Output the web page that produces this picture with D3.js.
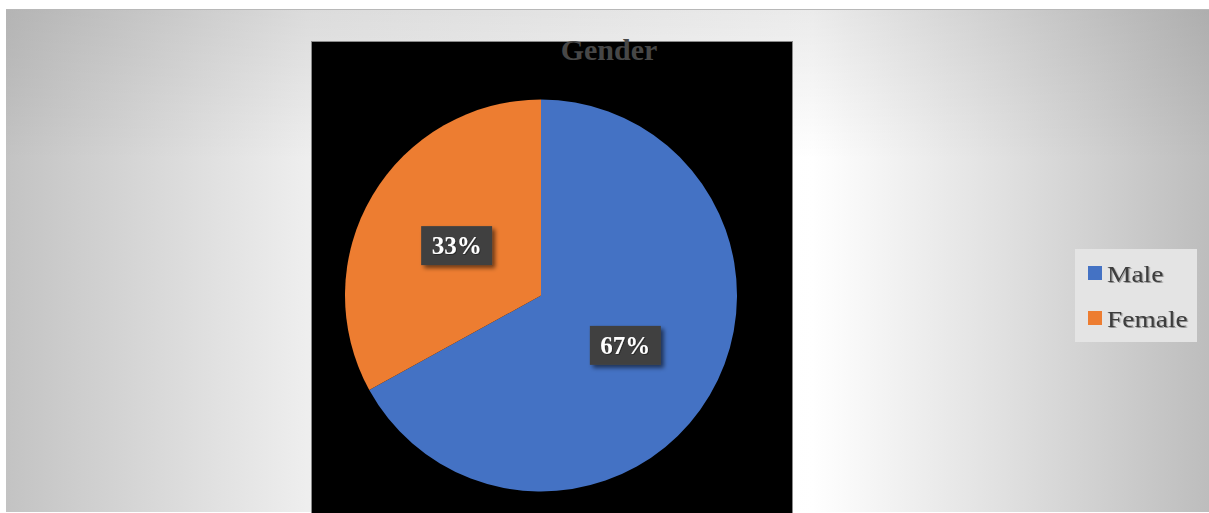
<!DOCTYPE html>
<html>
<head>
<meta charset="utf-8">
<script src="https://cdn.jsdelivr.net/npm/d3@7"></script>
<style>
  html, body { margin: 0; padding: 0; background: #ffffff; }
  svg { display: block; }
</style>
</head>
<body>
<svg id="chart" width="1209" height="513"></svg>
<script>
// Gender split of respondents
const categories = ["Male", "Female"];
const values = [67, 33];
const sliceColors = ["#4472C4", "#ED7D31"];
const chartTitle = "Gender";

const W = 1209, H = 513;
const svg = d3.select("#chart");
const defs = svg.append("defs");

// Slide background: soft grey gradient, brightest just right of the plot
const bg = defs.append("linearGradient").attr("id", "bgGrad")
  .attr("x1", "0").attr("y1", "0").attr("x2", "1").attr("y2", "0");
[[0, "#c3c3c3"], [0.25, "#eeeeee"], [0.67, "#ffffff"], [0.82, "#e2e2e2"], [1, "#bdbdbd"]]
  .forEach(([o, c]) => bg.append("stop").attr("offset", o).attr("stop-color", c));

const topShade = defs.append("linearGradient").attr("id", "topShade")
  .attr("x1", "0").attr("y1", "0").attr("x2", "0").attr("y2", "1");
[[0, "#000", 0.08], [0.3, "#000", 0.0], [1, "#000", 0.0]]
  .forEach(([o, c, a]) => topShade.append("stop").attr("offset", o).attr("stop-color", c).attr("stop-opacity", a));

const shadow = defs.append("filter").attr("id", "boxShadow")
  .attr("x", "-30%").attr("y", "-30%").attr("width", "160%").attr("height", "160%");
shadow.append("feDropShadow").attr("dx", 3).attr("dy", 3).attr("stdDeviation", 2)
  .attr("flood-color", "#000").attr("flood-opacity", 0.55);

const txtShadow = defs.append("filter").attr("id", "txtShadow")
  .attr("x", "-20%").attr("y", "-20%").attr("width", "140%").attr("height", "140%");
txtShadow.append("feDropShadow").attr("dx", 1).attr("dy", 1).attr("stdDeviation", 0.6)
  .attr("flood-color", "#000").attr("flood-opacity", 0.35);

svg.append("rect").attr("x", 0).attr("y", 0).attr("width", W).attr("height", H).attr("fill", "#ffffff");
svg.append("rect").attr("x", 6).attr("y", 9).attr("width", W - 6).attr("height", 503).attr("fill", "url(#bgGrad)");
svg.append("rect").attr("x", 6).attr("y", 9).attr("width", W - 6).attr("height", 503).attr("fill", "url(#topShade)");
svg.append("line").attr("x1", 6).attr("x2", W).attr("y1", 9.5).attr("y2", 9.5)
  .attr("stroke", "#b8b8b8").attr("stroke-width", 1);

// Plot area
const plot = { x: 311, y: 41, w: 481, h: 472 };
svg.append("rect")
  .attr("x", plot.x + 0.5).attr("y", plot.y + 0.5)
  .attr("width", plot.w).attr("height", plot.h)
  .attr("fill", "#000000").attr("stroke", "#8a8a8a").attr("stroke-width", 1);

svg.append("text")
  .attr("x", 609).attr("y", 60)
  .attr("text-anchor", "middle")
  .attr("font-family", "'Liberation Serif', 'Times New Roman', serif")
  .attr("font-weight", "bold").attr("font-size", 30)
  .attr("fill", "#474747")
  .text(chartTitle);

// Pie
const cx = 541, cy = 295.5, R = 196;
const data = categories.map((c, i) => ({ category: c, value: values[i], color: sliceColors[i] }));
const pie = d3.pie().value(d => d.value).sort(null);
const arc = d3.arc().innerRadius(0).outerRadius(R);
const arcs = pie(data);
const total = d3.sum(values);

const g = svg.append("g").attr("transform", `translate(${cx},${cy})`);
g.selectAll("path.slice").data(arcs).join("path")
  .attr("class", "slice")
  .attr("d", arc)
  .attr("fill", d => d.data.color);

// Percentage labels in dark boxes at slice centroids
const labelG = g.selectAll("g.lbl").data(arcs).join("g")
  .attr("class", "lbl")
  .attr("transform", d => `translate(${arc.centroid(d)})`);
labelG.append("rect")
  .attr("x", -35.5).attr("y", -19.5).attr("width", 71).attr("height", 39)
  .attr("fill", "#404040")
  .attr("filter", "url(#boxShadow)");
labelG.append("text")
  .attr("text-anchor", "middle")
  .attr("y", 8.5)
  .attr("font-family", "'Liberation Serif', 'Times New Roman', serif")
  .attr("font-weight", "bold").attr("font-size", 25)
  .attr("fill", "#ffffff")
  .attr("filter", "url(#txtShadow)")
  .text(d => d3.format(".0%")(d.data.value / total));

// Legend
const legend = svg.append("g").attr("transform", "translate(1075,249)");
legend.append("rect").attr("width", 122).attr("height", 93).attr("fill", "#e4e4e4");
const item = legend.selectAll("g.item").data(data).join("g")
  .attr("class", "item")
  .attr("transform", (d, i) => `translate(13,${17 + i * 45})`);
item.append("rect").attr("width", 14).attr("height", 14).attr("fill", d => d.color);
item.append("text")
  .attr("transform", "translate(19,16) scale(1.22,1)")
  .attr("font-family", "'Liberation Serif', 'Times New Roman', serif")
  .attr("font-size", 22.5)
  .attr("fill", "#3c3c3c")
  .attr("filter", "url(#txtShadow)")
  .text(d => d.category);
</script>
</body>
</html>
